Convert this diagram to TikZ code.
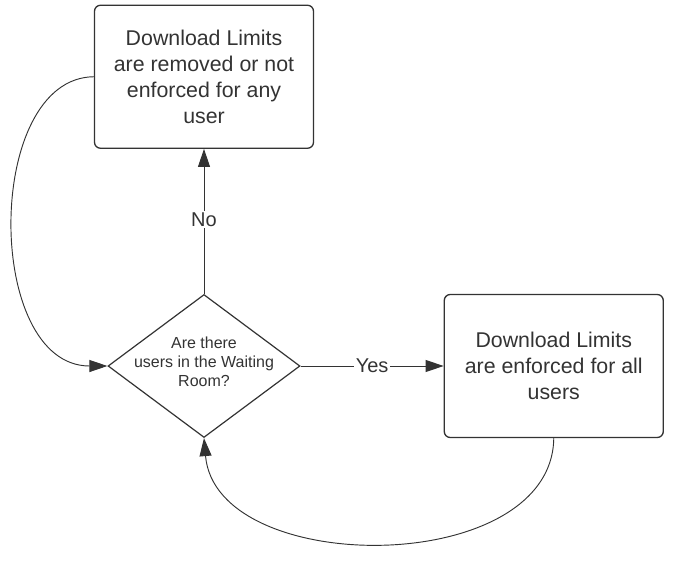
\documentclass[tikz,border=0pt]{standalone}
\usepackage{fontspec}
\setmainfont{Liberation Sans}
\usetikzlibrary{arrows.meta}
\usetikzlibrary{shapes.geometric}
\usetikzlibrary{positioning}
\definecolor{ink}{HTML}{333333}
\tikzset{box/.style={draw = ink, text = ink, line width = 1pt, rounded corners = 4.5pt, minimum width = 164.25pt, minimum height = 107.25pt, align = center, font = \fontsize{16}{19.5}\selectfont},
  ask/.style={draw = ink, text = ink, line width = 0.9pt, diamond, inner sep = 0pt, minimum width = 144pt, minimum height = 107.25pt},
  conn/.style={draw = ink, line width = 0.7pt, -{Triangle[length=13.5pt, width=9pt]}},
  lbl/.style={fill = white, text = ink, inner sep = 1pt, font = \fontsize{15}{18}\selectfont}}

\begin{document}
\begin{tikzpicture}[x=0.75pt, y=-0.75pt]
  \useasboundingbox (0,0) rectangle (677,560);
  \node[ask, label={[text = ink, align = center, font = \fontsize{12}{14.25}\selectfont, yshift = 3.5pt]center:Are there\\users in the Waiting\\Room?}] (decide) at (204,366) {};
  \node[box, above = 108.75pt of decide] (removed) {Download Limits\\are removed or not\\enforced for any\\user};
  \node[box, right = 107.25pt of decide] (enforced) {Download Limits\\are enforced for all\\users};

  \draw[conn] (decide.north) -- node[lbl, yshift = 1.5pt] {No} (removed.south);
  \draw[conn] (decide.east) -- node[lbl] {Yes} (enforced.west);
  \draw[conn] (removed.west) .. controls (-16,78) and (-16,366) .. (decide.west);
  \draw[conn] (enforced.south) .. controls (552,578) and (216,578) .. (decide.south);
\end{tikzpicture}
\end{document}
